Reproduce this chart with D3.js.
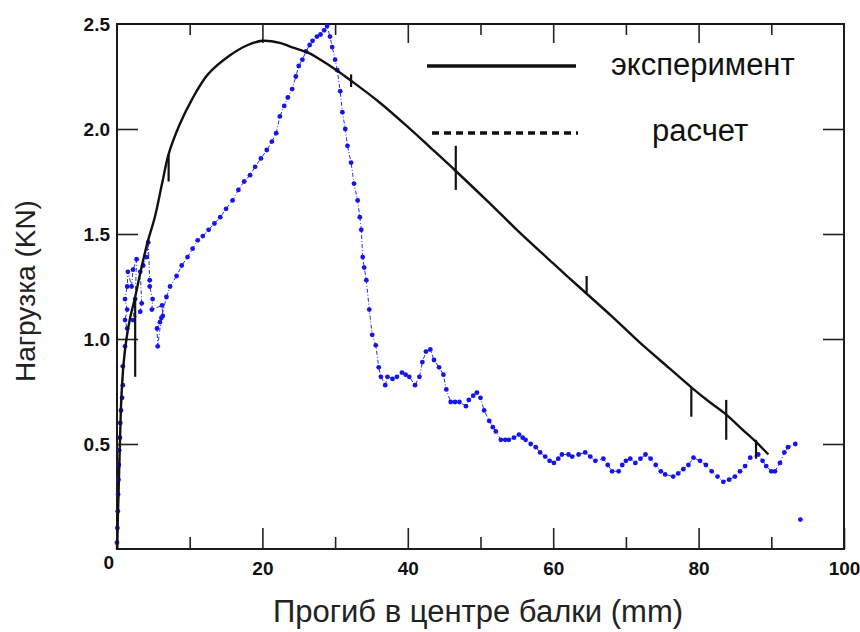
<!DOCTYPE html>
<html>
<head>
<meta charset="utf-8">
<script src="https://cdn.jsdelivr.net/npm/d3@7"></script>
<style>
  body { margin: 0; background: #fff; }
  svg { display: block; }
</style>
</head>
<body>
<script>
// эксперимент: measured curve, [deflection mm, load kN]
const experiment = [
  [0, 0], [0.2, 0.25], [0.4, 0.5], [0.6, 0.72], [0.9, 0.88], [1.3, 1.0], [1.8, 1.1], [2.5, 1.2],
  [3.3, 1.33], [4.2, 1.46], [5.2, 1.58], [6.2, 1.74], [7.1, 1.88], [8.6, 2.02], [10.3, 2.14],
  [12.5, 2.26], [15.5, 2.35], [18, 2.4], [20, 2.42], [22.4, 2.41], [24, 2.39], [26.5, 2.36],
  [28, 2.33], [30.2, 2.28], [32.2, 2.23], [36, 2.13], [40, 2.01], [43, 1.915], [46.6, 1.8],
  [51, 1.655], [55, 1.52], [60, 1.36], [63.5, 1.25], [68, 1.11], [72, 0.98], [76, 0.86],
  [79, 0.77], [81.5, 0.7], [83.8, 0.64], [86, 0.57], [87.9, 0.51], [89.6, 0.45]
];
// short vertical marks on the measured curve: [x, y from, y to]
const experimentMarks = [
  [2.5, 1.2, 0.82], [7.1, 1.88, 1.75], [32.2, 2.26, 2.2], [46.6, 1.92, 1.71],
  [64.6, 1.3, 1.22], [79, 0.77, 0.63], [83.8, 0.71, 0.52], [87.9, 0.52, 0.43]
];

// расчет: computed points, [deflection mm, load kN]
const calculation = [
  [0, 0.03], [0.05, 0.1], [0.1, 0.18], [0.15, 0.26], [0.2, 0.33], [0.25, 0.4], [0.3, 0.47],
  [0.4, 0.53], [0.45, 0.6], [0.55, 0.66], [0.7, 0.72], [0.8, 0.78], [0.8, 0.87], [1.1, 0.965],
  [1.4, 1.05], [1.1, 1.09], [1.4, 1.14], [1.1, 1.19], [1.4, 1.25], [1.5, 1.32], [2.0, 1.25],
  [2.2, 1.33], [2.7, 1.38], [2.5, 1.19], [2.2, 1.09], [3.2, 1.13], [3.4, 1.17], [3.2, 1.32],
  [3.6, 1.35], [4.1, 1.39], [4.3, 1.46], [4.5, 1.28], [4.5, 1.25], [4.9, 1.19], [4.8, 1.14],
  [6.2, 1.16], [6.3, 1.11], [5.9, 1.08], [5.5, 1.05], [5.6, 0.965],
  [6.1, 1.1], [6.8, 1.2], [7.3, 1.25], [8.2, 1.3], [8.9, 1.35], [9.7, 1.39], [10.4, 1.43],
  [11.1, 1.47], [11.8, 1.49], [12.6, 1.52], [13.4, 1.55], [14.2, 1.58], [15, 1.62],
  [15.9, 1.66], [16.7, 1.71], [17.5, 1.75], [18.3, 1.78], [19, 1.82], [19.8, 1.86], [20.6, 1.9],
  [21.3, 1.94], [21.9, 1.98], [22.4, 2.06], [23, 2.11], [23.5, 2.15], [24.1, 2.19], [24.6, 2.25],
  [25, 2.3], [25.5, 2.33], [26, 2.37], [26.5, 2.4], [26.9, 2.42], [27.5, 2.44], [28, 2.45],
  [28.5, 2.47], [28.9, 2.49], [29.3, 2.44], [29.6, 2.39], [30, 2.33], [30.3, 2.28], [30.7, 2.18],
  [31, 2.08], [31.4, 2], [31.7, 1.92], [32.2, 1.84], [32.6, 1.74], [33.1, 1.66], [33.4, 1.58],
  [33.6, 1.52], [33.8, 1.39], [34, 1.34], [34.3, 1.28], [34.7, 1.14], [35.1, 1.02], [35.6, 0.97],
  [36, 0.865], [36.3, 0.82], [36.9, 0.78], [37.2, 0.82], [37.9, 0.81], [38.5, 0.82], [39.2, 0.84],
  [39.7, 0.83], [40.2, 0.82], [41, 0.78], [41.6, 0.82], [42, 0.89], [42.5, 0.94], [43.1, 0.95],
  [43.6, 0.9], [44.3, 0.865], [44.9, 0.83], [45.3, 0.76], [45.9, 0.7], [46.5, 0.7], [47.1, 0.7],
  [48, 0.68], [48.4, 0.71], [49, 0.73], [49.5, 0.745], [50, 0.72], [50.5, 0.66], [51.2, 0.61],
  [51.7, 0.58], [52.1, 0.56], [52.8, 0.52], [53.4, 0.52], [53.9, 0.52], [54.6, 0.53], [55.3, 0.545],
  [55.8, 0.53], [56.2, 0.52], [56.9, 0.5], [57.6, 0.485], [58.2, 0.46], [58.9, 0.44], [59.5, 0.42],
  [60.1, 0.41], [60.7, 0.43], [61.2, 0.45], [62.1, 0.45], [62.6, 0.44], [63.5, 0.45], [64.4, 0.46],
  [65.1, 0.44], [65.8, 0.42], [66.9, 0.43], [67.5, 0.4], [68.1, 0.37], [69, 0.37], [69.5, 0.4],
  [70, 0.42], [70.6, 0.43], [71.3, 0.41], [72, 0.43], [72.7, 0.45], [73.4, 0.43], [74.1, 0.4],
  [74.8, 0.37], [75.4, 0.355], [76.5, 0.345], [77.2, 0.36], [77.9, 0.38], [78.6, 0.4], [79.3, 0.435],
  [80.2, 0.42], [81, 0.4], [81.8, 0.37], [82.6, 0.345], [83.4, 0.32], [84.2, 0.33], [85, 0.345],
  [85.7, 0.37], [86.4, 0.395], [87.1, 0.435], [88.2, 0.45], [88.8, 0.42], [89.3, 0.395], [90, 0.37],
  [90.5, 0.37], [91.2, 0.41], [91.8, 0.46], [92.3, 0.485], [93.3, 0.5]
];
const calculationStray = [[94, 0.14]];

const xMajorTicks = [0, 20, 40, 60, 80, 100];
const xMinorTicks = [10, 30, 50, 70, 90];
const yTicks = [0, 0.5, 1.0, 1.5, 2.0, 2.5];
const yInnerTicks = [0.5, 1.0, 1.5, 2.0];
const legendLabels = ['эксперимент', 'расчет'];
const xTitle = 'Прогиб в центре балки (mm)';
const yTitle = 'Нагрузка (KN)';

const W = 860, H = 632;
const margin = { top: 24, right: 16, bottom: 83, left: 117 };
const width = W - margin.left - margin.right;
const height = H - margin.top - margin.bottom;

const svg = d3.select('body').append('svg')
  .attr('width', W)
  .attr('height', H);

const g = svg.append('g')
  .attr('transform', `translate(${margin.left}, ${margin.top})`);

const x = d3.scaleLinear().domain([0, 100]).range([0, width]);
const y = d3.scaleLinear().domain([0, 2.5]).range([height, 0]);

const font = '"Liberation Sans", Arial, sans-serif';

// bottom ticks, pointing into the plot
g.append('g')
  .attr('transform', `translate(0, ${height})`)
  .call(d3.axisBottom(x).tickValues(xMajorTicks).tickSize(-21).tickSizeOuter(0).tickPadding(13)
    .tickFormat(d => d === 0 ? '' : d3.format('d')(d)));
g.append('g')
  .attr('transform', `translate(0, ${height})`)
  .call(d3.axisBottom(x).tickValues(xMinorTicks).tickSize(-12).tickSizeOuter(0).tickFormat(''));

// top ticks
g.append('g')
  .call(d3.axisTop(x).tickValues([20, 40, 60, 80]).tickSize(-19).tickSizeOuter(0).tickFormat(''));
g.append('g')
  .call(d3.axisTop(x).tickValues(xMinorTicks).tickSize(-11).tickSizeOuter(0).tickFormat(''));

// left ticks and labels
const yAxisLeft = g.append('g')
  .call(d3.axisLeft(y).tickValues(yTicks).tickSize(-21).tickSizeOuter(0).tickPadding(7)
    .tickFormat(d => d === 0 ? '0' : d3.format('.1f')(d)));
yAxisLeft.selectAll('.tick line').filter(d => d === 0 || d === 2.5).remove();
yAxisLeft.selectAll('.tick text').filter(d => d === 0)
  .attr('dy', '1.0em').attr('x', -3);

// right ticks
g.append('g')
  .attr('transform', `translate(${width}, 0)`)
  .call(d3.axisRight(y).tickValues(yInnerTicks).tickSize(-21).tickSizeOuter(0).tickFormat(''));

g.selectAll('.domain').remove();
g.selectAll('.tick line').attr('stroke', '#222').attr('stroke-width', 1.6);
g.selectAll('.tick text')
  .attr('fill', '#111')
  .style('font-family', font)
  .style('font-size', '19px')
  .style('font-weight', 'bold');

// frame
g.append('rect')
  .attr('width', width)
  .attr('height', height)
  .attr('fill', 'none')
  .attr('stroke', '#1a1a1a')
  .attr('stroke-width', 2);

// расчет: thin dash-dot trace with dots
const line = d3.line().x(d => x(d[0])).y(d => y(d[1]));

g.append('path')
  .datum(calculation)
  .attr('fill', 'none')
  .attr('stroke', '#2a2af0')
  .attr('stroke-width', 1)
  .attr('stroke-dasharray', '4,2,1,2')
  .attr('d', line);

g.append('g')
  .selectAll('circle')
  .data(calculation.concat(calculationStray))
  .join('circle')
  .attr('cx', d => x(d[0]))
  .attr('cy', d => y(d[1]))
  .attr('r', 2.4)
  .attr('fill', '#1414ee');

// эксперимент
g.append('path')
  .datum(experiment)
  .attr('fill', 'none')
  .attr('stroke', '#111')
  .attr('stroke-width', 2.4)
  .attr('stroke-linejoin', 'round')
  .attr('d', line.curve(d3.curveCatmullRom.alpha(0.5)));

g.append('g')
  .selectAll('line')
  .data(experimentMarks)
  .join('line')
  .attr('x1', d => x(d[0]))
  .attr('x2', d => x(d[0]))
  .attr('y1', d => y(d[1]))
  .attr('y2', d => y(d[2]))
  .attr('stroke', '#111')
  .attr('stroke-width', 2.2);

// legend
const legend = svg.append('g');
legend.append('line')
  .attr('x1', 427).attr('x2', 576).attr('y1', 66).attr('y2', 66)
  .attr('stroke', '#111').attr('stroke-width', 3.5);
legend.append('line')
  .attr('x1', 432).attr('x2', 578).attr('y1', 133).attr('y2', 133)
  .attr('stroke', '#111').attr('stroke-width', 3.5).attr('stroke-dasharray', '7,5');
legend.selectAll('text')
  .data(legendLabels)
  .join('text')
  .attr('x', (d, i) => i === 0 ? 611 : 652)
  .attr('y', (d, i) => i === 0 ? 75 : 141)
  .attr('fill', '#111')
  .style('font-family', font)
  .style('font-size', '31px')
  .text(d => d);

// axis titles
svg.append('text')
  .attr('x', 478)
  .attr('y', 622)
  .attr('text-anchor', 'middle')
  .attr('fill', '#222')
  .style('font-family', font)
  .style('font-size', '31px')
  .text(xTitle);

svg.append('text')
  .attr('transform', 'translate(35, 291) rotate(-90)')
  .attr('text-anchor', 'middle')
  .attr('fill', '#222')
  .style('font-family', font)
  .style('font-size', '28px')
  .text(yTitle);
</script>
</body>
</html>
